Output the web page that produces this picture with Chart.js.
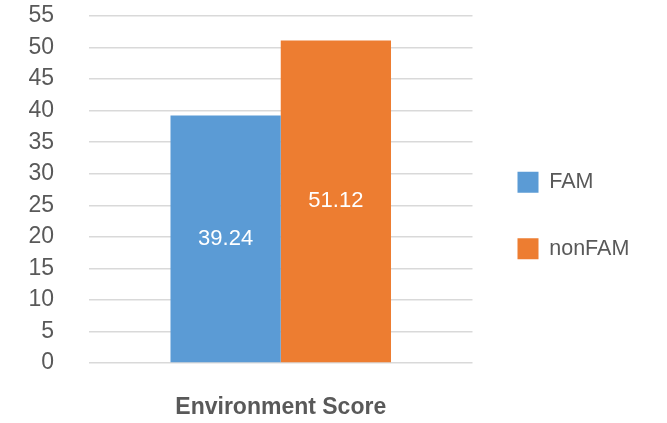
<!DOCTYPE html>
<html>
<head>
<meta charset="utf-8">
<script src="https://cdn.jsdelivr.net/npm/chart.js@4"></script>
<style>
  html, body { margin: 0; padding: 0; background: #fff; }
</style>
</head>
<body>
<canvas id="myChart" width="667" height="423"></canvas>
<script>
let categories = ["Environment Score"],
    famValues = [39.24],
    nonFamValues = [51.12];

const BLUE = "#5b9bd5";
const ORANGE = "#ed7d31";
const GREY = "#595959";
const FONT = "'Liberation Sans', Arial, sans-serif";

// white value labels in the middle of each bar
const barLabels = {
    id: "barLabels",
    afterDatasetsDraw(chart) {
        let ctx = chart.ctx;
        ctx.save();
        ctx.fillStyle = "#fff";
        ctx.font = "22px " + FONT;
        ctx.textAlign = "center";
        ctx.textBaseline = "middle";
        chart.data.datasets.forEach((ds, i) => {
            chart.getDatasetMeta(i).data.forEach((bar, j) => {
                ctx.fillText(ds.data[j].toFixed(2), bar.x, (bar.y + bar.base) / 2);
            });
        });
        ctx.restore();
    }
};

let data = {
    labels: categories,
    datasets: [{
        label: "FAM",
        backgroundColor: BLUE,
        data: famValues
    }, {
        label: "nonFAM",
        backgroundColor: ORANGE,
        data: nonFamValues
    }]
};

const config = {
    type: "bar",
    data: data,
    plugins: [barLabels],
    options: {
        responsive: false,
        animation: false,
        layout: { padding: { top: 16, right: 37, left: 0, bottom: 8 } },
        datasets: { bar: { categoryPercentage: 0.575, barPercentage: 1 } },
        plugins: {
            tooltip: { enabled: false },
            legend: {
                position: "right",
                labels: {
                    boxWidth: 21,
                    boxHeight: 21,
                    padding: 45,
                    color: GREY,
                    font: { size: 21.5, family: FONT }
                }
            }
        },
        scales: {
            x: {
                grid: { display: false },
                border: { display: false },
                afterFit: scale => { scale.height = 52; },
                ticks: {
                    color: GREY,
                    padding: 23,
                    font: { size: 23, weight: "bold", family: FONT }
                }
            },
            y: {
                min: 0,
                max: 55,
                grid: { color: "#d9d9d9", lineWidth: 1.5, drawTicks: true, tickLength: 35, tickColor: "transparent" },
                border: { display: false },
                afterFit: scale => { scale.width = 89; },
                ticks: {
                    stepSize: 5,
                    autoSkip: false,
                    color: GREY,
                    padding: 0,
                    font: { size: 23, family: FONT }
                }
            }
        }
    }
};

var myChart = new Chart(document.getElementById("myChart"), config);
</script>
</body>
</html>
